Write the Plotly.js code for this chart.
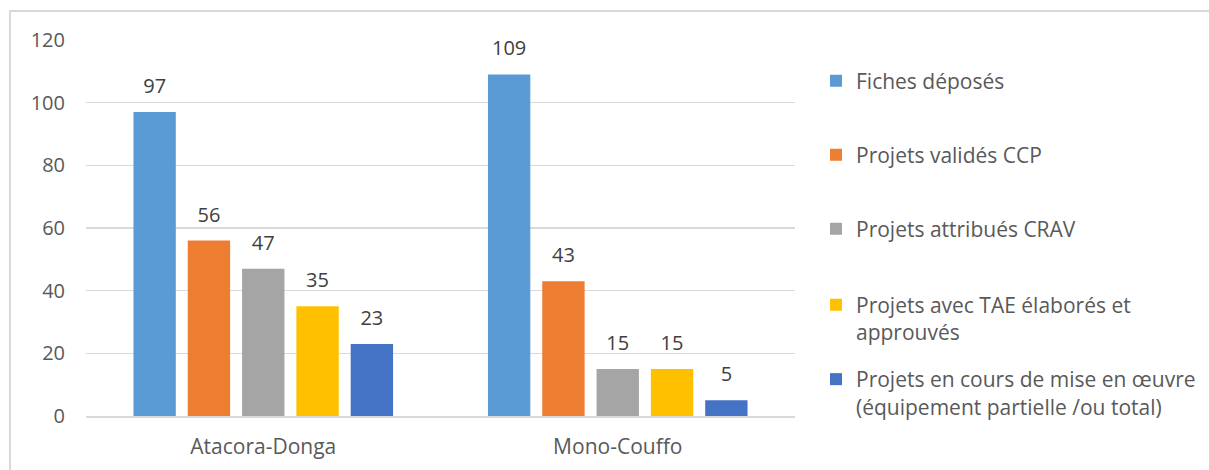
<!DOCTYPE html>
<html>
<head>
<meta charset="utf-8">
<script src="https://cdn.plot.ly/plotly-3.0.1.min.js"></script>
<style>
  html, body { margin: 0; padding: 0; background: #ffffff; overflow: hidden; }
  #frame { position: absolute; left: 9px; top: 10px; width: 1400px; height: 600px;
           border-left: 2px solid #d9d9d9; border-top: 2px solid #d9d9d9; box-sizing: border-box; }
  #chart { position: absolute; left: 0; top: 0; width: 1209px; height: 470px; }
</style>
</head>
<body>
<div id="frame"></div>
<div id="chart"></div>
<script>
// ---- data ----
const categories = ['Atacora-Donga', 'Mono-Couffo'];
const seriesNames = [
  'Fiches déposés',
  'Projets validés CCP',
  'Projets attribués CRAV',
  'Projets avec TAE élaborés et<br>approuvés',
  'Projets en cours de mise en œuvre<br>(équipement partielle /ou total)'
];
const fichesDeposes = [97, 109];
const projetsValidesCCP = [56, 43];
const projetsAttribuesCRAV = [47, 15];
const projetsTAE = [35, 15];
const projetsEnCours = [23, 5];
const yTicks = [0, 20, 40, 60, 80, 100, 120];

// ---- styles ----
const seriesValues = [fichesDeposes, projetsValidesCCP, projetsAttribuesCRAV, projetsTAE, projetsEnCours];
const colors = ['#5B9BD5', '#ED7D31', '#A5A5A5', '#FFC000', '#4472C4'];
const FONT = '"Open Sans", Lato, sans-serif';
const labelLift = 3.2; // gap between bar top and its value label, in axis units

// legend placement (paper coords); plot area spans y 40..416 px
const legendNames = ['legend', 'legend2', 'legend3', 'legend4', 'legend5'];
const legendCentersPx = [81, 155, 229, 318.5, 393];
const plotTop = 40, plotBottom = 416;

const traces = [];
seriesValues.forEach((vals, i) => {
  traces.push({
    type: 'bar', x: categories, y: vals, name: seriesNames[i],
    marker: { color: colors[i] },
    legend: legendNames[i],
    hoverinfo: 'y'
  });
});
// value labels: transparent bars on an overlaid category axis, sitting on top of each bar
seriesValues.forEach((vals, i) => {
  traces.push({
    type: 'bar', x: categories, xaxis: 'x2',
    base: vals, y: vals.map(() => labelLift),
    text: vals.map(String), textposition: 'outside', constraintext: 'none',
    textfont: { family: FONT, size: 20, color: '#404040' },
    marker: { color: 'rgba(0,0,0,0)' },
    cliponaxis: false, showlegend: false, hoverinfo: 'skip'
  });
});

const layout = {
  width: 1209, height: 470,
  margin: { l: 86, r: 414, t: 40, b: 54, pad: 0, autoexpand: false },
  paper_bgcolor: 'rgba(0,0,0,0)', plot_bgcolor: 'rgba(0,0,0,0)',
  barmode: 'group', bargap: 0.234, bargroupgap: 0.22,
  font: { family: FONT, size: 20, color: '#595959' },
  xaxis: {
    type: 'category', categoryarray: categories, range: [-0.5, 1.5],
    showgrid: false, zeroline: false, showline: true, linecolor: '#d9d9d9', linewidth: 1.5,
    ticks: '', ticklabelstandoff: 11, tickfont: { family: FONT, size: 21, color: '#595959' }
  },
  xaxis2: {
    type: 'category', categoryarray: categories, range: [-0.5, 1.5], overlaying: 'x',
    visible: false, showgrid: false, zeroline: false
  },
  yaxis: {
    range: [0, 120], tickvals: yTicks, ticktext: yTicks.map(String),
    showgrid: true, gridcolor: '#d9d9d9', gridwidth: 1.5, zeroline: false, showline: false,
    ticks: '', ticklabelstandoff: 20, tickfont: { family: FONT, size: 20, color: '#595959' }
  },
  showlegend: true
};
legendNames.forEach((ln, i) => {
  layout[ln] = {
    x: (816 - 86) / (1209 - 86 - 414), xanchor: 'left',
    y: (plotBottom - legendCentersPx[i]) / (plotBottom - plotTop), yanchor: 'middle',
    bgcolor: 'rgba(0,0,0,0)', borderwidth: 0, valign: 'top',
    font: { family: FONT, size: 21, color: '#595959' }
  };
});

Plotly.newPlot('chart', traces, layout, { displayModeBar: false, staticPlot: true });
</script>
</body>
</html>
